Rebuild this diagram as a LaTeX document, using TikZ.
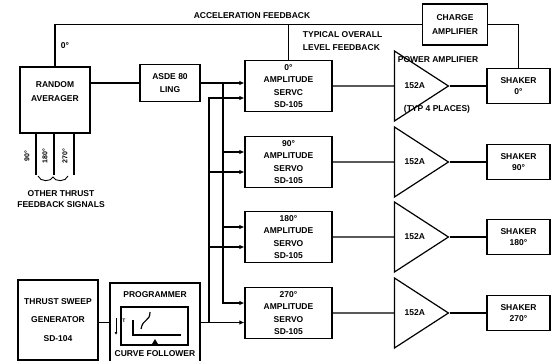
\documentclass[tikz,border=0pt]{standalone}
\usepackage{fontspec}
\setmainfont{Liberation Sans}
\usepackage{tikz}
\usetikzlibrary{arrows.meta,shapes.geometric}
\tikzset{
  kasten/.style={draw, align=center, inner sep=1pt},
  verst/.style={draw, isosceles triangle, isosceles triangle stretches,
    shape border rotate=0, minimum width=70pt, minimum height=54pt, inner sep=0pt},
}
\newcommand{\Kanal}[4]{%
  \node[kasten, minimum width=87pt, minimum height=51pt] (servo#1) at (288.5,#2) {#3\\AMPLITUDE\\#4\\SD-105};
  \node[verst, anchor=apex] (amp#1) at (450,#2) {152A};
  \node[kasten, minimum width=63pt, minimum height=35pt,
    font=\bfseries\fontsize{8.5}{11}\selectfont] (shaker#1) at (518.5,#2) {SHAKER\\#3};
  \draw (servo#1.east) -- (amp#1.west);
  \draw (amp#1.apex) -- (shaker#1.west);}

\begin{document}
\begin{tikzpicture}[x=1pt,y=-1pt,line width=1.2pt,>={Latex[length=5pt,width=4.5pt]},
  font=\bfseries\fontsize{8.5}{12.5}\selectfont]
  \useasboundingbox (0,0) rectangle (551,361);
  % vier Kanaele: Servo, Verstaerker, Shaker
  \Kanal{A}{86}{0°}{SERVC}
  \Kanal{B}{162}{90°}{SERVO}
  \Kanal{C}{237}{180°}{SERVO}
  \Kanal{D}{313}{270°}{SERVO}
  % linke Seite
  \node[kasten, minimum width=70pt, minimum height=66pt, text depth=16pt,
    font=\bfseries\fontsize{8.5}{14}\selectfont] (mittler) at (55,100) {RANDOM\\AVERAGER};
  \node[kasten, minimum width=60pt, minimum height=37pt] (asde) at (170,83) {ASDE 80\\LING};
  \node[kasten, minimum width=65pt, minimum height=41pt,
    font=\bfseries\fontsize{8.5}{14}\selectfont] (ladung) at (455,24.5) {CHARGE\\AMPLIFIER};
  \node[kasten, minimum width=80pt, minimum height=80pt] (geber) at (58,320)
    {THRUST SWEEP\\[6pt]GENERATOR\\[6pt]SD-104};
  % Programmer mit Kurvenfolger
  \node[kasten, minimum width=90pt, minimum height=79pt] (prog) at (155,322.5) {};
  \node (progtitel) at (155,295) {PROGRAMMER};
  \node (folger) at (155,354) {CURVE FOLLOWER};
  \draw (121,307) rectangle (188,345);
  \draw[->, line width=0.8pt, >={Latex[length=3pt,width=3pt]}] (116,318) -- (116,335);
  \node[font=\bfseries\fontsize{5}{6}\selectfont] (tmark) at (124,321) {T};
  \draw (133,320) -- (133,335) -- (181,335);
  \draw (141,329) .. controls (143,318) and (150,322) .. (150,312);
  \fill (155,339) -- (152,344) -- (158,344) -- cycle;
  % Rueckfuehrungen
  \draw (mittler.north) |- (ladung.west);
  \draw (ladung.east) -| (shakerA.north);
  \draw (servoA.north |- ladung.west) -- (servoA.north);
  \node (beschl) at (252,16) {ACCELERATION FEEDBACK};
  \node (null) at (65,46) {0°};
  \node[align=left, anchor=north west] (typisch) at (299,28) {TYPICAL OVERALL\\LEVEL FEEDBACK};
  \node (leistung) at (438,60) {POWER AMPLIFIER};
  \node (typ) at (437,109) {(TYP 4 PLACES)};
  % Sammelleitungen zu den Servos
  \draw (mittler.east |- asde.west) -- (asde.west);
  \draw[->] (asde.east) -- (asde.east -| servoA.west);
  \coordinate (busA) at (223,83);
  \draw[->] (busA) |- ([yshift=10pt]servoB.west);
  \draw[->] (busA) |- ([yshift=10pt]servoC.west);
  \draw[->] (busA) |- ([yshift=10pt]servoD.west);
  \draw (geber.east |- prog.west) -- (prog.west);
  \draw[->] (prog.east) -- (prog.east -| servoD.west);
  \coordinate (busB) at (209,322.5);
  \draw[->] (busB) |- ([yshift=-12pt]servoA.west);
  \draw[->] (busB) |- ([yshift=-10pt]servoB.west);
  \draw[->] (busB) |- ([yshift=-10pt]servoC.west);
  % andere Schub-Rueckfuehrungen
  \foreach \x/\w in {36/90,54/180,74/270} {
    \draw (\x,0 |- mittler.south) -- (\x,175);
    \node[rotate=90, font=\bfseries\fontsize{7}{8}\selectfont] at (\x-9,156) {\w°};
  }
  \draw[line width=0.9pt] (38,176) .. controls (40,182) and (51,182) .. (53,177)
    .. controls (55,182) and (66,182) .. (68,176);
  \node[align=center, font=\bfseries\fontsize{8.5}{11}\selectfont] (andere) at (61,199)
    {OTHER THRUST\\FEEDBACK SIGNALS};
\end{tikzpicture}
\end{document}
